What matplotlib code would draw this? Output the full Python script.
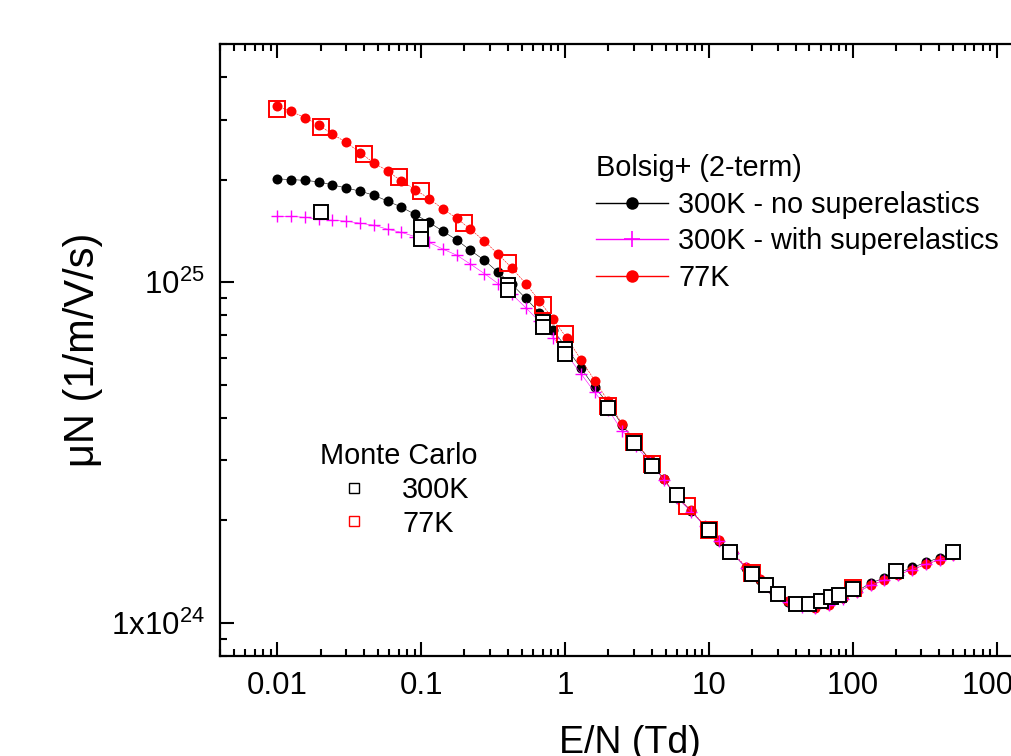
import matplotlib
matplotlib.use("Agg")
import matplotlib.pyplot as plt
from matplotlib.lines import Line2D
from matplotlib.ticker import FixedLocator, LogLocator, NullFormatter
import numpy as np

plt.rcParams['font.family'] = ['Liberation Sans', 'DejaVu Sans']
plt.rcParams['mathtext.fontset'] = 'custom'
plt.rcParams['mathtext.rm'] = 'Liberation Sans'
plt.rcParams['mathtext.it'] = 'Liberation Sans:italic'

UNIT = 1e24  # mobility values below are in units of 1e24 1/m/V/s

# Bolsig+ (2-term) reduced field grid, Td
en_bolsig = [0.01, 0.0125, 0.0156, 0.0194, 0.0242, 0.0302, 0.0376, 0.0469, 0.0585, 0.0730,
             0.0910, 0.113, 0.142, 0.177, 0.220, 0.275, 0.342, 0.427, 0.533, 0.664,
             0.828, 1.03, 1.29, 1.61, 2.00, 2.50, 3.12, 3.89, 4.85, 6.04,
             7.54, 9.40, 11.7, 14.6, 18.2, 22.7, 28.4, 35.4, 44.1, 55.0,
             68.6, 85.5, 107, 133, 166, 207, 258, 322, 401, 500]

mu_300k_nosup = [20.1, 20.0, 19.9, 19.7, 19.3, 18.9, 18.5, 18.0, 17.3, 16.6,
                 15.8, 15.0, 14.1, 13.3, 12.4, 11.6, 10.7, 9.86, 8.97, 8.14,
                 7.23, 6.39, 5.60, 4.91, 4.40, 3.80, 3.38, 3.00, 2.64, 2.33,
                 2.13, 1.92, 1.74, 1.60, 1.45, 1.34, 1.23, 1.155, 1.12, 1.115,
                 1.135, 1.18, 1.24, 1.31, 1.355, 1.40, 1.455, 1.505, 1.555, 1.60]

mu_300k_sup = [15.6, 15.6, 15.5, 15.3, 15.2, 15.1, 14.9, 14.7, 14.3, 14.0,
               13.6, 13.1, 12.5, 12.0, 11.3, 10.6, 9.91, 9.22, 8.42, 7.67,
               6.87, 6.13, 5.39, 4.75, 4.22, 3.66, 3.30, 2.97, 2.63, 2.33,
               2.12, 1.92, 1.74, 1.60, 1.45, 1.34, 1.23, 1.15, 1.115, 1.11,
               1.13, 1.175, 1.23, 1.29, 1.335, 1.385, 1.435, 1.485, 1.535, 1.58]

mu_77k = [32.8, 31.7, 30.4, 28.9, 27.2, 25.7, 24.0, 22.4, 21.2, 19.8,
          18.7, 17.6, 16.4, 15.4, 14.3, 13.2, 12.1, 11.0, 9.91, 8.81,
          7.78, 6.85, 5.93, 5.14, 4.47, 3.83, 3.40, 3.01, 2.65, 2.34,
          2.14, 1.93, 1.75, 1.61, 1.46, 1.35, 1.24, 1.16, 1.12, 1.11,
          1.13, 1.18, 1.23, 1.29, 1.335, 1.385, 1.435, 1.485, 1.535, 1.58]

# Monte Carlo results
en_mc_300k = [0.02, 0.1, 0.1, 0.4, 0.4, 0.7, 0.7, 1.0, 1.0, 2.0, 3.0, 4.0, 6.0, 10,
              14, 20, 25, 30, 40, 50, 60, 70, 80, 100, 200, 500]
mu_mc_300k = [16.1, 14.5, 13.4, 9.82, 9.49, 7.63, 7.37, 6.37, 6.14, 4.27, 3.38, 2.89, 2.37, 1.87,
              1.62, 1.39, 1.29, 1.215, 1.14, 1.135, 1.16, 1.19, 1.21, 1.257, 1.416, 1.61]

en_mc_77k = [0.01, 0.02, 0.04, 0.07, 0.1, 0.2, 0.4, 0.7, 1.0, 2.0, 3.0, 4.0, 7.0, 10, 20, 100]
mu_mc_77k = [32.2, 28.6, 23.7, 20.4, 18.5, 14.9, 11.4, 8.55, 7.03, 4.32, 3.40, 2.92, 2.21, 1.88,
             1.40, 1.265]

W, H = 1011, 756
FS = 20.8
fig = plt.figure(figsize=(W / 100, H / 100), dpi=100)
# axes runs past the right edge of the figure
ax = fig.add_axes([220 / W, 1 - 656 / H, 820 / W, 612 / H])

ax.plot(en_bolsig, np.array(mu_300k_nosup) * UNIT, color='black', lw=0.4,
        marker='o', ms=7.2, mec='none', zorder=2)
ax.plot(en_bolsig, np.array(mu_77k) * UNIT, color='red', lw=0.4, ls='--',
        marker='o', ms=7.2, mec='none', zorder=2.1)
ax.plot(en_bolsig, np.array(mu_300k_sup) * UNIT, color='#FF00FF', lw=0.4,
        marker='+', ms=8.5, mew=1.0, zorder=2.2)

ax.plot(en_mc_77k, np.array(mu_mc_77k) * UNIT, ls='none', marker='s', ms=12,
        mfc='none', mec='red', mew=1.4, zorder=3)
ax.plot(en_mc_300k, np.array(mu_mc_300k) * UNIT, ls='none', marker='s', ms=9.5,
        mfc='white', mec='black', mew=1.4, zorder=4)

ax.set_xscale('log')
ax.set_yscale('log')
ax.set_xlim(0.004, 2000)
ax.set_ylim(8e23, 5e25)

ax.xaxis.set_major_locator(FixedLocator([0.01, 0.1, 1, 10, 100, 1000]))
ax.set_xticklabels(['0.01', '0.1', '1', '10', '100', '1000'])
ax.xaxis.set_minor_locator(LogLocator(base=10, subs=np.arange(2, 10), numticks=20))
ax.xaxis.set_minor_formatter(NullFormatter())

ax.yaxis.set_major_locator(FixedLocator([1e24, 1e25]))
ax.set_yticklabels([r'1x10$^{24}$', r'10$^{25}$'])
ax.yaxis.set_minor_locator(LogLocator(base=10, subs=np.arange(2, 10), numticks=20))
ax.yaxis.set_minor_formatter(NullFormatter())

ax.tick_params(which='both', direction='in', top=True, right=True, width=1.5,
               labelsize=22.5, pad=11)
ax.tick_params(which='major', length=10)
ax.tick_params(which='minor', length=5)
for sp in ax.spines.values():
    sp.set_linewidth(1.6)

ax.set_xlabel('E/N (Td)', fontsize=27, labelpad=17)
ax.set_ylabel('\u03bcN (1/m/V/s)', fontsize=30, labelpad=6)

bolsig_handles = [
    Line2D([], [], color='black', lw=1, marker='o', ms=9, mec='none'),
    Line2D([], [], color='#FF00FF', lw=1, marker='+', ms=12, mew=1.2),
    Line2D([], [], color='red', lw=1, marker='o', ms=9, mec='none'),
]
leg1 = ax.legend(bolsig_handles,
                 ['300K - no superelastics', '300K - with superelastics', '77K'],
                 title='Bolsig+ (2-term)', title_fontsize=FS, fontsize=FS,
                 alignment='left', frameon=False, loc='upper left',
                 bbox_to_anchor=(596 / W, 1 - 154 / H), bbox_transform=fig.transFigure,
                 borderpad=0, borderaxespad=0, handlelength=2.5, handletextpad=0.35,
                 labelspacing=0.3)
ax.add_artist(leg1)

mc_handles = [
    Line2D([], [], ls='none', marker='s', ms=6.5, mfc='none', mec='black', mew=1),
    Line2D([], [], ls='none', marker='s', ms=6.5, mfc='none', mec='red', mew=1),
]
ax.legend(mc_handles, ['300K', '77K'], title='Monte Carlo', title_fontsize=FS,
          fontsize=FS, alignment='left', frameon=False, loc='upper left',
          bbox_to_anchor=(320 / W, 1 - 442 / H), bbox_transform=fig.transFigure,
          borderpad=0, borderaxespad=0, handlelength=2.35, handletextpad=0.5,
          labelspacing=0.2)

fig.savefig('out.png', dpi=100)
